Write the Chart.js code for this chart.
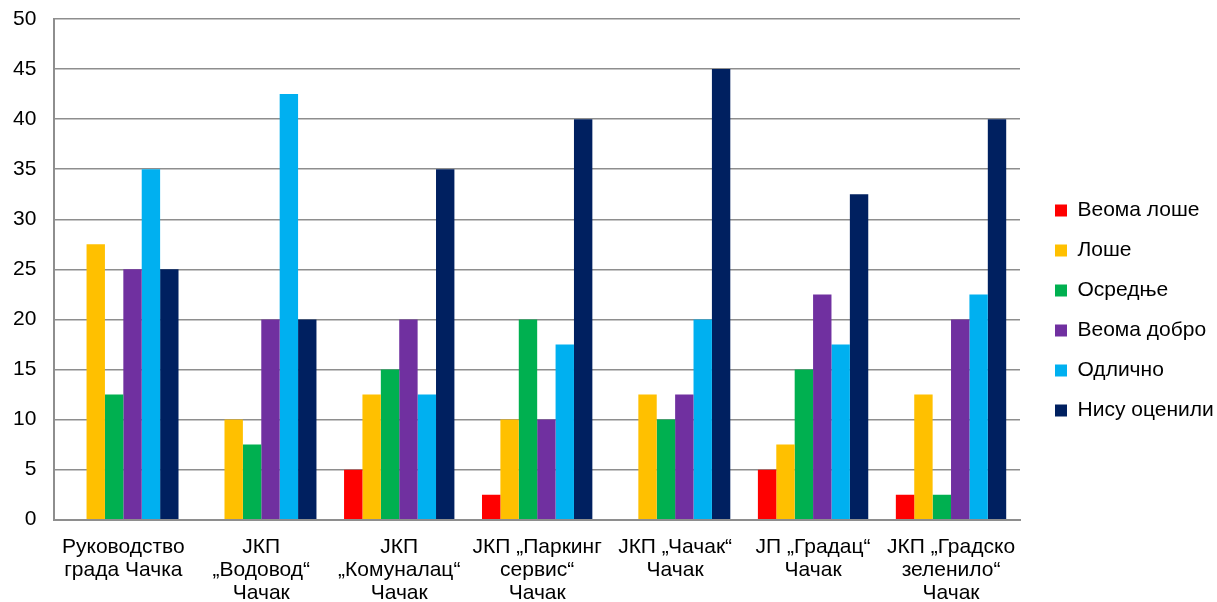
<!DOCTYPE html>
<html>
<head>
<meta charset="utf-8">
<script src="https://cdn.jsdelivr.net/npm/chart.js@4/dist/chart.umd.min.js"></script>
<style>
  html, body { margin: 0; padding: 0; background: #fff; }
  #wrap { width: 1217px; height: 602px; }
</style>
</head>
<body>
<div id="wrap"><canvas id="myChart" width="1217" height="602"></canvas></div>
<script>
const categories = [
  ['Руководство', 'града Чачка'],
  ['ЈКП', '„Водовод“', 'Чачак'],
  ['ЈКП', '„Комуналац“', 'Чачак'],
  ['ЈКП „Паркинг', 'сервис“', 'Чачак'],
  ['ЈКП „Чачак“', 'Чачак'],
  ['ЈП „Градац“', 'Чачак'],
  ['ЈКП „Градско', 'зеленило“', 'Чачак'],
];

const seriesNames = ['Веома лоше', 'Лоше', 'Осредње', 'Веома добро', 'Одлично', 'Нису оценили'];
const seriesColors = ['#FF0000', '#FFC000', '#00B050', '#7030A0', '#00B0F0', '#002060'];

const veomaLose  = [0, 0, 5, 2.5, 0, 5, 2.5];
const lose       = [27.5, 10, 12.5, 10, 12.5, 7.5, 12.5];
const osrednje   = [12.5, 7.5, 15, 20, 10, 15, 2.5];
const veomaDobro = [25, 20, 20, 10, 12.5, 22.5, 20];
const odlicno    = [35, 42.5, 12.5, 17.5, 20, 17.5, 22.5];
const nisuOcenili = [25, 20, 35, 40, 45, 32.5, 40];

const allValues = [veomaLose, lose, osrednje, veomaDobro, odlicno, nisuOcenili];

const datasets = seriesNames.map(function (name, i) {
  return {
    label: name,
    data: allValues[i],
    backgroundColor: seriesColors[i],
    borderWidth: 0,
    categoryPercentage: 0.8,
    barPercentage: 1.0,
  };
});

const font = { family: 'Arial, "Liberation Sans", sans-serif', size: 21, lineHeight: 1.1 };

// legend wider than chart.js makes it, then pushed right a bit
const legendWidth = 197;
const legendShift = 16;
const legendPlace = {
  id: 'legendPlace',
  beforeUpdate(chart) {
    const lg = chart.legend;
    if (lg && !lg._wrapped) {
      const orig = lg.fit;
      lg.fit = function () {
        orig.call(this);
        this.width = legendWidth;
      };
      lg._wrapped = true;
    }
  },
  afterLayout(chart) {
    chart.legend.left += legendShift;
    chart.legend.right += legendShift;
  },
};

new Chart(document.getElementById('myChart'), {
  type: 'bar',
  data: { labels: categories, datasets: datasets },
  plugins: [legendPlace],
  options: {
    responsive: false,
    devicePixelRatio: 1,
    animation: false,
    layout: { padding: { top: 0, left: -5, right: 0, bottom: -19 } },
    plugins: {
      tooltip: { enabled: false },
      legend: {
        position: 'right',
        labels: {
          color: '#000',
          font: font,
          boxWidth: 12,
          boxHeight: 12,
          padding: 19,
        },
      },
    },
    scales: {
      x: {
        grid: { display: false, drawTicks: false },
        border: { color: '#8e8e8e', width: 2 },
        ticks: { color: '#000', font: font, padding: 16, maxRotation: 0, autoSkip: false },
      },
      y: {
        min: 0,
        max: 50,
        afterFit(scale) {
          scale.paddingTop = 19;
        },
        grid: { color: '#8e8e8e', lineWidth: 1.5, drawTicks: false },
        border: { color: '#8e8e8e', width: 2 },
        ticks: { stepSize: 5, color: '#000', font: font, padding: 18 },
      },
    },
  },
});
</script>
</body>
</html>
